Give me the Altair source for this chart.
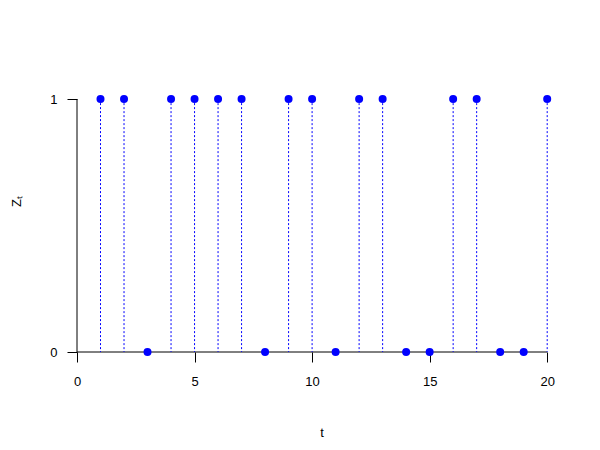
import altair as alt
import pandas as pd

t_values = list(range(1, 21))
z_values = [1, 1, 0, 1, 1, 1, 1, 0, 1, 1, 0, 1, 1, 0, 0, 1, 1, 0, 0, 1]
x_ticks = [0, 5, 10, 15, 20]
y_ticks = [0, 1]

df = pd.DataFrame({"t": t_values, "z": z_values})
x_axis_line = pd.DataFrame({"x0": [min(x_ticks)], "x1": [max(x_ticks)], "y0": [min(y_ticks)]})
y_axis_line = pd.DataFrame({"y0": [min(y_ticks)], "y1": [max(y_ticks)], "x0": [min(x_ticks)]})

FONT = "Liberation Sans"
xs = alt.Scale(domain=[0, 20.8], nice=False, zero=False)
ys = alt.Scale(domain=[0, 1.04], nice=False, zero=False)

x_axis = alt.Axis(values=x_ticks, format="d", domain=False, grid=False, tickSize=10,
                  tickColor="black", labelFlush=False,
                  labelFont=FONT, labelFontSize=13, labelColor="black", labelPadding=13,
                  title="t", titleFont=FONT, titleFontSize=13, titleFontWeight="normal",
                  titleColor="black", titleY=80, titleBaseline="middle")
y_axis = alt.Axis(values=y_ticks, format="d", domain=False, grid=False, tickSize=10,
                  tickColor="black", labelFlush=False,
                  labelFont=FONT, labelFontSize=13, labelColor="black", labelPadding=10,
                  labelAngle=0, title="Zₜ", titleFont=FONT, titleFontSize=13,
                  titleFontWeight="normal", titleColor="black", titleX=-61, titleY=112,
                  titleBaseline="middle")

stems = alt.Chart(df).transform_filter("datum.z > 0").transform_calculate(base="0").mark_rule(
    color="blue", strokeDash=[2, 2], strokeWidth=1
).encode(
    x=alt.X("t:Q", scale=xs, axis=x_axis),
    y=alt.Y("z:Q", scale=ys, axis=y_axis),
    y2="base:Q",
)

xline = alt.Chart(x_axis_line).mark_rule(color="black", strokeWidth=1).encode(
    x=alt.X("x0:Q", scale=xs), x2="x1:Q", y=alt.Y("y0:Q", scale=ys)
)
yline = alt.Chart(y_axis_line).mark_rule(color="black", strokeWidth=1).encode(
    y=alt.Y("y0:Q", scale=ys), y2="y1:Q", x=alt.X("x0:Q", scale=xs)
)

points = alt.Chart(df).mark_circle(color="blue", opacity=1, size=64).encode(
    x=alt.X("t:Q", scale=xs),
    y=alt.Y("z:Q", scale=ys),
)

chart = alt.layer(xline, yline, stems, points).properties(
    width=489, height=263,
    autosize=alt.AutoSizeParams(type="none"),
    padding={"left": 69, "top": 81, "right": 26, "bottom": 90},
).configure_view(stroke=None)

chart.save("out.html", embed_options={"renderer": "svg", "actions": False})
